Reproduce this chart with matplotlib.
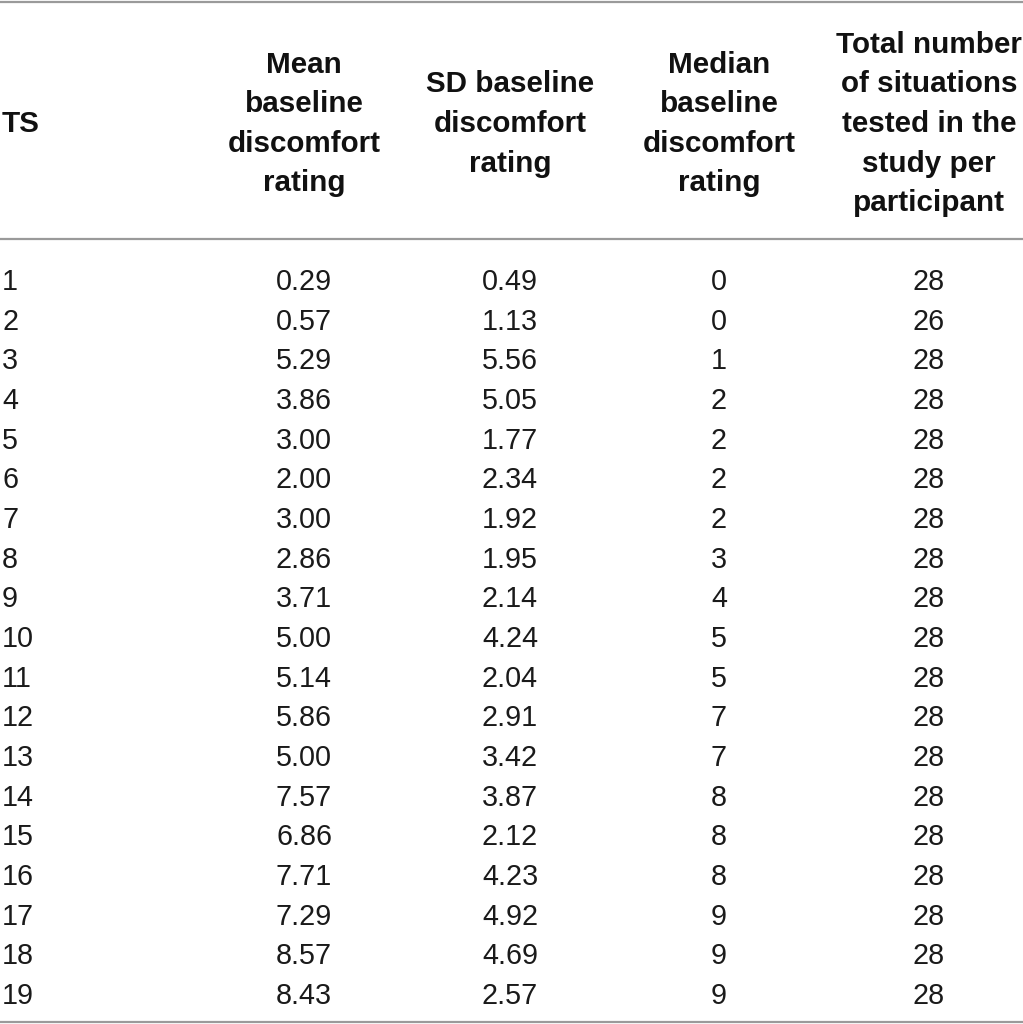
import matplotlib.pyplot as plt

ts = list(range(1, 20))
mean_rating = ["0.29", "0.57", "5.29", "3.86", "3.00", "2.00", "3.00", "2.86", "3.71", "5.00",
               "5.14", "5.86", "5.00", "7.57", "6.86", "7.71", "7.29", "8.57", "8.43"]
sd_rating = ["0.49", "1.13", "5.56", "5.05", "1.77", "2.34", "1.92", "1.95", "2.14", "4.24",
             "2.04", "2.91", "3.42", "3.87", "2.12", "4.23", "4.92", "4.69", "2.57"]
median_rating = [0, 0, 1, 2, 2, 2, 2, 3, 4, 5, 5, 7, 7, 8, 8, 8, 9, 9, 9]
total_situations = [28, 26] + [28] * 17

headers = [
    ["TS"],
    ["Mean", "baseline", "discomfort", "rating"],
    ["SD baseline", "discomfort", "rating"],
    ["Median", "baseline", "discomfort", "rating"],
    ["Total number", "of situations", "tested in the", "study per", "participant"],
]
col_x = [2, 304, 510, 719, 929]
col_ha = ["left", "center", "center", "center", "center"]

W, H = 1023, 1024
fig = plt.figure(figsize=(W / 100, H / 100), dpi=100)
ax = fig.add_axes([0, 0, 1, 1])
ax.set_xlim(0, W)
ax.set_ylim(H, 0)
ax.axis("off")

font = "Liberation Sans"
line_col = "#9a9a9a"

# rules
for y in [1.5, 239, 1022]:
    ax.axhline(y, color=line_col, lw=1.6)

# header
head_mid, head_step = 121, 39.5
for x, ha, lines in zip(col_x, col_ha, headers):
    n = len(lines)
    for i, s in enumerate(lines):
        y = head_mid + (i - (n - 1) / 2) * head_step
        ax.text(x, y, s, ha=ha, va="center_baseline", fontsize=21.3,
                fontweight="bold", family=font, color="#111111")

# body
row0, row_step = 279, (993 - 279) / 18
columns = [ts, mean_rating, sd_rating, median_rating, total_situations]
for r in range(len(ts)):
    y = row0 + r * row_step
    for x, ha, col in zip(col_x, col_ha, columns):
        ax.text(x, y, str(col[r]), ha=ha, va="center_baseline", fontsize=20.7,
                family=font, color="#1a1a1a")

fig.savefig("out.png", dpi=100)
